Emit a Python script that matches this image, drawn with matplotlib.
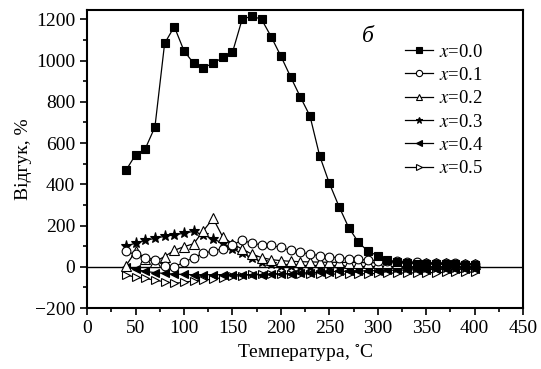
import numpy as np
import matplotlib
matplotlib.use("Agg")
import matplotlib.pyplot as plt
from matplotlib.ticker import MultipleLocator

plt.rcParams['font.family'] = ['Liberation Serif', 'DejaVu Serif']
plt.rcParams['mathtext.fontset'] = 'stix'

# temperature grid, 40..400 C in steps of 10
temp = np.arange(40, 401, 10)

resp_00 = [467, 543, 572, 678, 1083, 1164, 1047, 986, 966, 986, 1015, 1039,
           1200, 1215, 1200, 1115, 1021, 921, 824, 731, 538, 405, 292, 190,
           119, 75, 54, 33, 22, 17, 15, 14, 13, 12, 12, 11, 10]
resp_01 = [75, 60, 45, 35, 5, 0, 22, 45, 65, 78, 88, 105, 130, 114, 107,
           104, 94, 80, 70, 62, 54, 48, 44, 40, 36, 33, 30, 28, 26, 24, 22,
           20, 19, 18, 17, 16, 15]
resp_02 = [5, 75, 40, 25, 50, 80, 98, 112, 175, 235, 145, 112, 86, 62, 45,
           35, 30, 27, 25, 24, 23, 22, 22, 21, 21, 20, 20, 20, 19, 19, 18,
           18, 17, 17, 16, 16, 15]
resp_03 = [100, 115, 128, 138, 148, 155, 163, 172, 155, 135, 115, 88, 65,
           45, 25, 12, 5, 2, 0, -1, -2, -3, -3, -4, -4, -5, -5, -5, -5, -5,
           -5, -5, -5, -5, -5, -5, -5]
resp_04 = [0, -12, -22, -28, -32, -35, -37, -38, -38, -38, -38, -38, -38,
           -38, -38, -36, -35, -33, -30, -28, -26, -24, -22, -21, -20, -19,
           -18, -17, -16, -15, -14, -13, -12, -12, -11, -11, -10]
resp_05 = [-39, -50, -56, -65, -72, -80, -75, -68, -65, -59, -52, -46, -42,
           -37, -34, -33, -33, -33, -34, -34, -35, -35, -35, -35, -34, -33,
           -32, -31, -30, -30, -29, -28, -28, -27, -27, -26, -25]

labels = ['0.0', '0.1', '0.2', '0.3', '0.4', '0.5']
series = [resp_00, resp_01, resp_02, resp_03, resp_04, resp_05]
markers = ['s', 'o', '^', '*', '<', '>']
faces = ['black', 'white', 'white', 'black', 'black', 'white']
sizes = [6, 6.3, 6.5, 8, 6, 6]

fig = plt.figure(figsize=(5.41, 3.69), dpi=100)
ax = fig.add_axes([0.161, 0.165, 0.806, 0.808])

ax.axhline(0, color='black', lw=1.0, zorder=1)

order = [5, 4, 3, 2, 1, 0]
handles = [None] * 6
for i in order:
    h, = ax.plot(temp, series[i], color='black', lw=0.9, marker=markers[i],
                 markersize=sizes[i], markerfacecolor=faces[i],
                 markeredgecolor='black', markeredgewidth=0.8,
                 label=f'$x$=' + labels[i], zorder=2 + (5 - i))
    handles[i] = h

ax.set_xlim(0, 450)
ax.set_ylim(-200, 1245)
ax.xaxis.set_major_locator(MultipleLocator(50))
ax.xaxis.set_minor_locator(MultipleLocator(25))
ax.yaxis.set_major_locator(MultipleLocator(200))
ax.yaxis.set_minor_locator(MultipleLocator(100))
ax.tick_params(which='both', direction='out', top=False, right=False,
               labelsize=14, width=1.2)
ax.tick_params(which='major', length=5)
ax.tick_params(which='minor', length=3)
for sp in ax.spines.values():
    sp.set_linewidth(1.5)

ax.set_xlabel('Температура, $^{\\circ}$C', fontsize=14, labelpad=4)
ax.set_ylabel('Відгук, %', fontsize=14, labelpad=2)

ax.text(0.63, 0.91, 'б', transform=ax.transAxes, fontsize=17,
        style='italic', ha='left', va='center')

leg = ax.legend(handles=handles, loc='upper right',
                bbox_to_anchor=(0.935, 0.925), frameon=False,
                fontsize=13.5, handlelength=1.5, handletextpad=0.3,
                labelspacing=0.33, borderaxespad=0.2)
for lh in leg.legend_handles:
    lh.set_markersize(4.5)

fig.savefig('out.png', dpi=100)
